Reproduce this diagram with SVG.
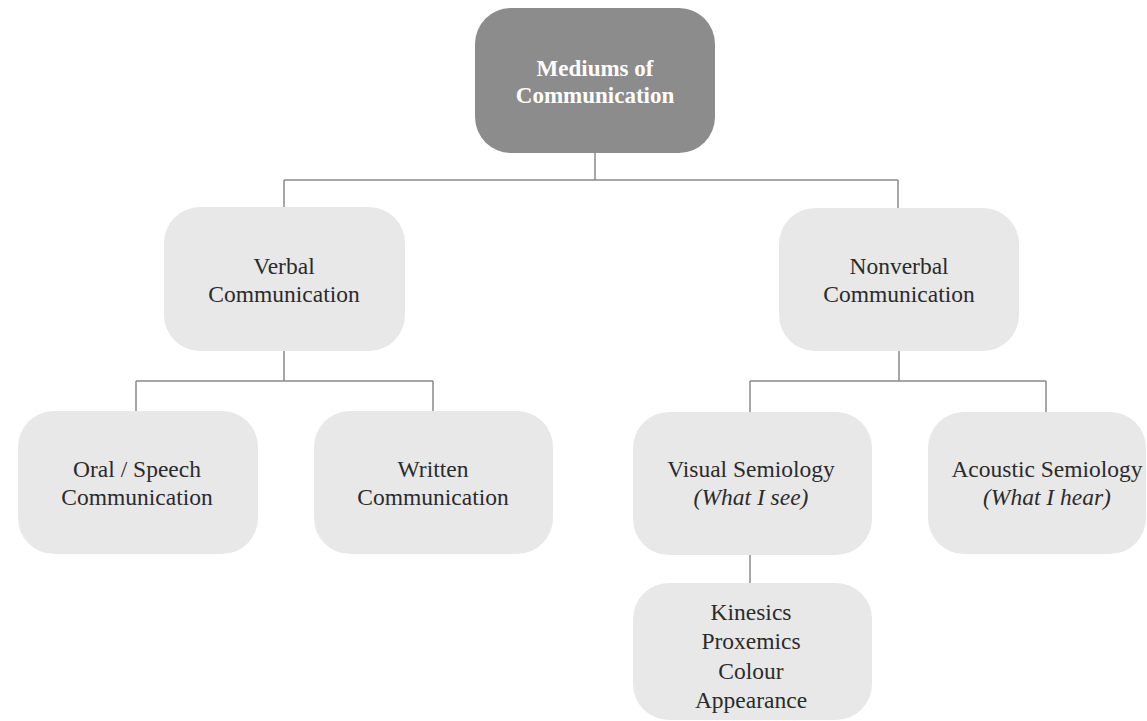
<svg xmlns="http://www.w3.org/2000/svg" width="1147" height="721" viewBox="0 0 1147 721">
<style>
.box{fill:#e8e8e8}
.dark{fill:#8c8c8c}
.t{font-family:"Liberation Serif","Times New Roman",serif;font-size:23.5px;fill:#2b2b2b;text-anchor:middle}
.tw{font-family:"Liberation Serif","Times New Roman",serif;font-size:23px;font-weight:bold;fill:#ffffff;text-anchor:middle}
.i{font-style:italic}
.c{fill:none;stroke:#8a8a8a;stroke-width:1.5}
</style>
<rect width="1147" height="721" fill="#ffffff"/>
<g id="connectors">
<path class="c" d="M595,153 V180 M284,180 H898 M284,180 V207 M898,180 V208"/>
<path class="c" d="M284,351 V381 M136,381 H433 M136,381 V411 M433,381 V411"/>
<path class="c" d="M899,351 V381 M750,381 H1046 M750,381 V412 M1046,381 V412"/>
<path class="c" d="M750,555 V583"/>
</g>
<g id="n-mediums">
<rect class="dark" x="475" y="8" width="240" height="145" rx="36"/>
<text class="tw" x="595" y="76">Mediums of</text>
<text class="tw" x="595" y="103">Communication</text>
</g>
<g id="n-verbal">
<rect class="box" x="164" y="207" width="241" height="144" rx="36"/>
<text class="t" x="284" y="274">Verbal</text>
<text class="t" x="284" y="302">Communication</text>
</g>
<g id="n-nonverbal">
<rect class="box" x="779" y="208" width="240" height="143" rx="36"/>
<text class="t" x="899" y="274">Nonverbal</text>
<text class="t" x="899" y="302">Communication</text>
</g>
<g id="n-oral">
<rect class="box" x="18" y="411" width="240" height="143" rx="36"/>
<text class="t" x="137" y="477">Oral / Speech</text>
<text class="t" x="137" y="505">Communication</text>
</g>
<g id="n-written">
<rect class="box" x="314" y="411" width="239" height="143" rx="36"/>
<text class="t" x="433" y="477">Written</text>
<text class="t" x="433" y="505">Communication</text>
</g>
<g id="n-visual">
<rect class="box" x="633" y="412" width="239" height="143" rx="36"/>
<text class="t" x="751" y="477">Visual Semiology</text>
<text class="t i" x="751" y="505">(What I see)</text>
</g>
<g id="n-acoustic">
<rect class="box" x="928" y="412" width="218" height="142" rx="36"/>
<text class="t" x="1047" y="477">Acoustic Semiology</text>
<text class="t i" x="1047" y="505">(What I hear)</text>
</g>
<g id="n-kinesics">
<rect class="box" x="633" y="583" width="239" height="137" rx="36"/>
<text class="t" x="751" y="620">Kinesics</text>
<text class="t" x="751" y="649">Proxemics</text>
<text class="t" x="751" y="679">Colour</text>
<text class="t" x="751" y="708">Appearance</text>
</g>
</svg>
